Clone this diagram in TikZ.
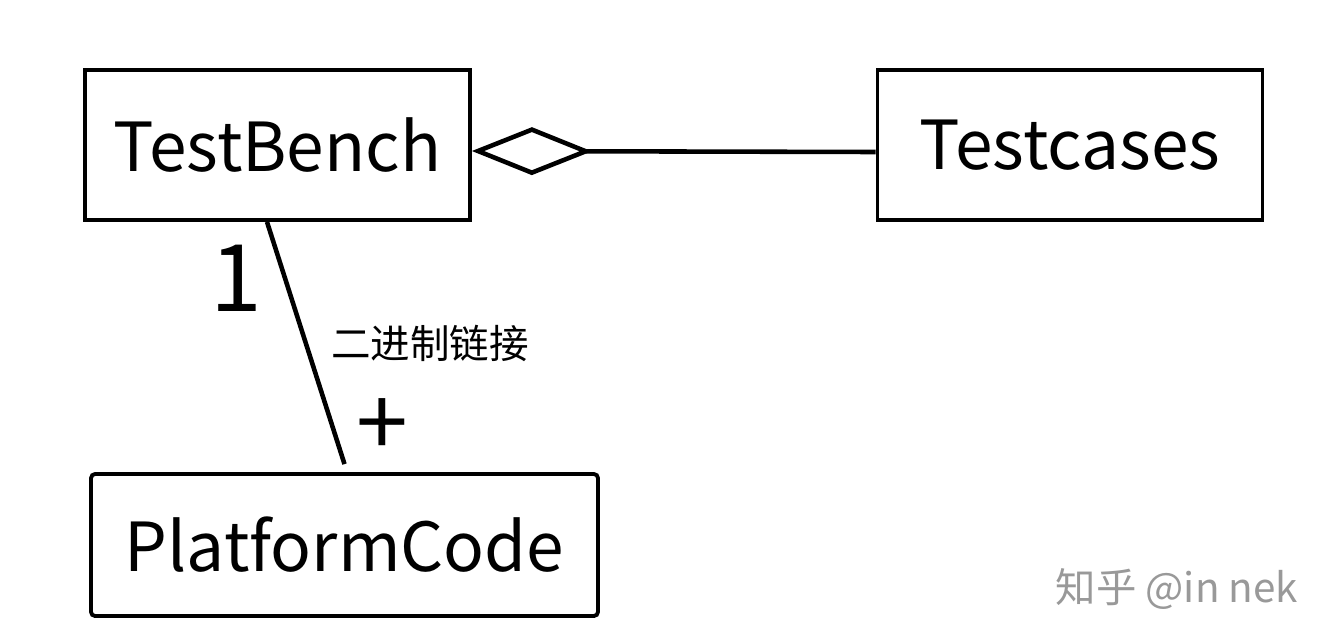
\documentclass[tikz,border=0pt]{standalone}
\usepackage{fontspec}
\setmainfont{Noto Sans CJK SC}
\usetikzlibrary{arrows.meta}
\tikzset{
  classbox/.style={draw, line width=2.2pt, minimum width=7.7cm, minimum height=3cm, inner sep=0pt, font=\fontsize{38.5}{46}\selectfont},
  multlabel/.style={font=\fontsize{53}{62}\selectfont, inner sep=0pt},
  link/.style={line width=2.6pt}
}
\begin{document}
\begin{tikzpicture}[x=0.02cm,y=-0.02cm]
    \useasboundingbox (0,0) rectangle (1329,643);

    % Classes
    \node[classbox] (bench) at (277.5,145) {TestBench};
    \node[classbox] (cases) at (1070,145) {Testcases};
    \node[classbox, minimum width=10.14cm, minimum height=2.84cm, rounded corners=0.08cm] (platform) at (344.5,545) {PlatformCode};

    % Aggregation
    \draw[link, {Diamond[open, length=2.4cm, width=0.96cm]}-] ([yshift=-0.12cm]bench.east) -- ([yshift=-0.14cm]cases.west);

    % Binary link
    \draw[link] ([xshift=-0.21cm]bench.south) -- ([yshift=0.16cm]platform.north);
    \node[multlabel] (one) at (236,278) {1};
    \node[multlabel] (plus) at (382,428) {+};
    \node[font=\fontsize{22.5}{27}\selectfont, inner sep=0pt] (binlabel) at (430,343) {二进制链接};

    % Watermark
    \node[font=\fontsize{23}{27}\selectfont, text=black!40, inner sep=0pt] (mark) at (1177,589) {知乎 @in nek};
\end{tikzpicture}
\end{document}
